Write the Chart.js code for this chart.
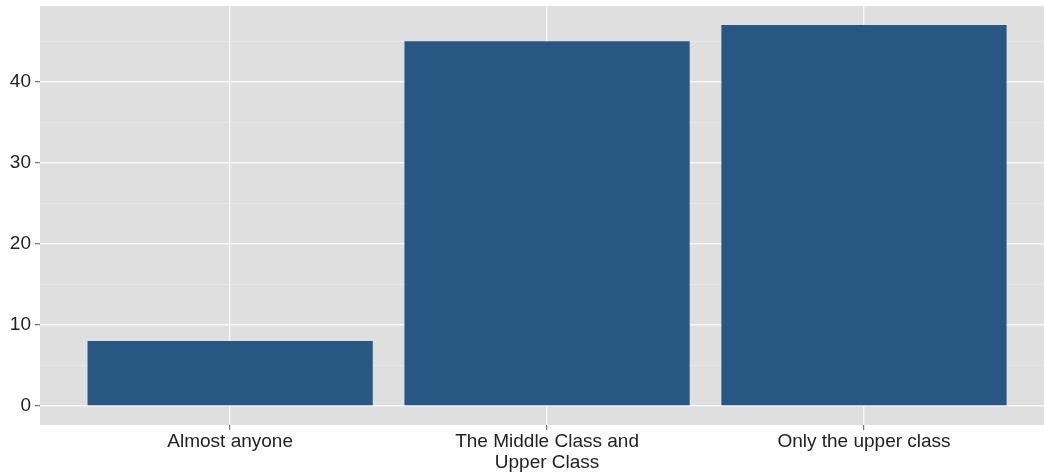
<!DOCTYPE html>
<html>
<head>
<meta charset="utf-8">
<script src="https://cdn.jsdelivr.net/npm/chart.js@4.4.0/dist/chart.umd.min.js"></script>
<style>
  html, body { margin: 0; padding: 0; background: #ffffff; }
  #wrap { width: 1044px; height: 476px; }
</style>
</head>
<body>
<div id="wrap"><canvas id="chart"></canvas></div>
<script>
// categories and values
const categories = ['Almost anyone', ['The Middle Class and', 'Upper Class'], 'Only the upper class'];
const counts = [8, 45, 47];
const yTicks = [0, 10, 20, 30, 40];
const yMinor = [5, 15, 25, 35, 45];

const barColor = '#285784';
const panelColor = '#dfdfdf';

// gray panel behind the plot, like ggplot's theme_gray
const panelBg = {
    id: 'panelBg',
    beforeDraw(chart) {
        const a = chart.chartArea;
        const ctx = chart.ctx;
        ctx.save();
        ctx.fillStyle = panelColor;
        ctx.fillRect(a.left, a.top, a.right - a.left, a.bottom - a.top);
        ctx.restore();
    }
};

const points = counts.map((v, i) => ({ x: i + 1, y: v }));

new Chart(document.getElementById('chart'), {
    type: 'bar',
    data: {
        datasets: [{
            data: points,
            backgroundColor: barColor,
            borderWidth: 0,
            categoryPercentage: 0.9,
            barPercentage: 1
        }]
    },
    options: {
        responsive: true,
        maintainAspectRatio: false,
        animation: false,
        layout: { padding: 0 },
        plugins: { legend: { display: false }, tooltip: { enabled: false } },
        scales: {
            x: {
                type: 'linear',
                offset: false,
                min: 0.4,
                max: 3.568,
                afterBuildTicks(scale) {
                    scale.ticks = categories.map((c, i) => ({ value: i + 1 }));
                },
                afterFit(scale) { scale.height = 51; },
                border: { display: false },
                grid: {
                    offset: false,
                    color: '#f7f7f7',
                    lineWidth: 1.4,
                    drawTicks: true,
                    tickLength: 5,
                    tickColor: '#555555',
                    tickWidth: 1
                },
                ticks: {
                    padding: 1,
                    maxRotation: 0,
                    autoSkip: false,
                    color: '#222222',
                    font: { family: 'Liberation Sans, Arial, sans-serif', size: 19, lineHeight: 1.1 },
                    callback: (v) => categories[Math.round(v) - 1]
                }
            },
            y: {
                min: -2.35,
                max: 49.35,
                afterBuildTicks(scale) {
                    scale.ticks = yTicks.concat(yMinor).sort((a, b) => a - b).map(v => ({ value: v }));
                },
                afterFit(scale) {
                    scale.width = 40;
                    scale.paddingTop = 6;
                    scale.paddingBottom = 0;
                },
                border: { display: false },
                grid: {
                    color: (c) => (c.tick && c.tick.value % 10 === 0) ? '#f7f7f7' : '#e9e9e9',
                    lineWidth: (c) => (c.tick && c.tick.value % 10 === 0) ? 1.4 : 0.8,
                    drawTicks: true,
                    tickLength: 5,
                    tickColor: (c) => (c.tick && c.tick.value % 10 === 0) ? '#555555' : 'rgba(0,0,0,0)',
                    tickWidth: 1
                },
                ticks: {
                    padding: 4,
                    autoSkip: false,
                    color: '#222222',
                    font: { family: 'Liberation Sans, Arial, sans-serif', size: 19 },
                    callback: (v) => yTicks.includes(v) ? String(v) : ''
                }
            }
        }
    },
    plugins: [panelBg]
});
</script>
</body>
</html>
